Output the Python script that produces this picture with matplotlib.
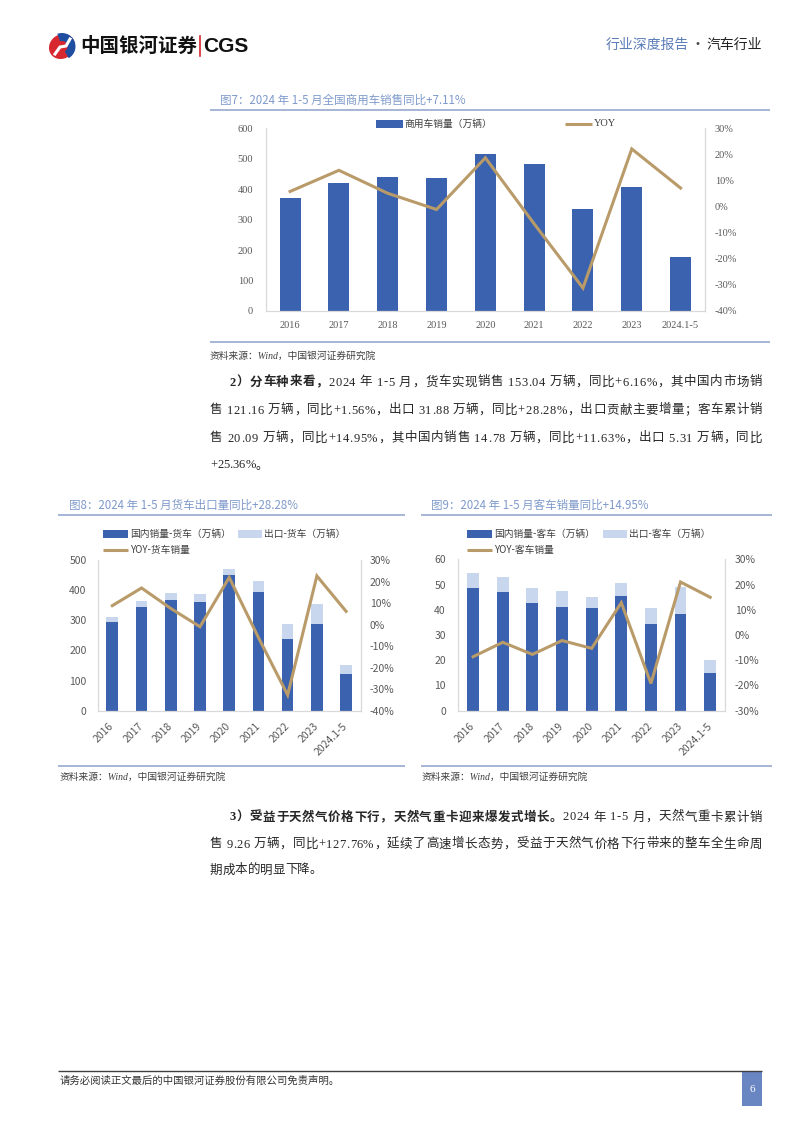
import numpy as np
import matplotlib
matplotlib.use("Agg")
import matplotlib.pyplot as plt
from matplotlib.patches import Rectangle, Ellipse, Wedge
from matplotlib.font_manager import findfont, FontProperties
from matplotlib.ft2font import FT2Font

W, H = 802, 1133

BLUE = "#3A62AE"
LIGHT = "#C9D7EE"
GOLD = "#B99A69"
AXIS = "#D9D9D9"
TICK = "#595959"
TITLE = "#7E9ACB"
RULE = "#8FA2CC"
TXT = "#262626"
SERIF = ["Liberation Serif", "Noto Sans CJK SC"]
SANS = ["Noto Sans CJK SC", "DejaVu Sans"]

# ---- data ----
years = ["2016", "2017", "2018", "2019", "2020", "2021", "2022", "2023", "2024.1-5"]

# 图7 商用车
cv_sales = [370, 421, 441, 436, 516, 484, 334, 408, 177]
cv_yoy = [5.8, 13.9, 5.1, -1.1, 18.7, -6.6, -31.2, 22.1, 7.11]

# 图8 货车
truck_dom = [293, 344, 367, 362, 450, 395, 237, 288, 121.16]
truck_exp = [18, 19, 22, 24, 20, 35, 52, 66, 31.88]
truck_yoy = [8.8, 17.0, 7.5, -1.0, 21.9, -6.0, -32.7, 22.6, 6.16]

# 图9 客车
bus_dom = [48.6, 46.9, 42.8, 41.1, 40.8, 45.5, 34.5, 38.3, 14.78]
bus_exp = [5.8, 6.0, 5.8, 6.5, 4.1, 5.0, 6.2, 10.9, 5.31]
bus_yoy = [-8.6, -2.9, -7.7, -2.2, -5.3, 12.8, -19.2, 21.0, 14.95]


fig = plt.figure(figsize=(W / 100, H / 100), dpi=100)
page = fig.add_axes([0, 0, 1, 1])
page.set_xlim(0, W)
page.set_ylim(H, 0)
page.axis("off")


def box(x0, y0, x1, y1):
    return [x0 / W, 1 - y1 / H, (x1 - x0) / W, (y1 - y0) / H]


def chart(rect, dom, exp, yoy, ymax, ystep, rlo, rhi, bar_w, fam, fs, rotate, pads):
    ax = fig.add_axes(box(*rect))
    x = np.arange(len(years))
    ax.bar(x, dom, width=bar_w, color=BLUE, zorder=2)
    if exp is not None:
        ax.bar(x, exp, bottom=dom, width=bar_w, color=LIGHT, zorder=2)
    ax.set_xlim(-0.5, len(years) - 0.5)
    ax.set_ylim(0, ymax)
    yt = np.arange(0, ymax + ystep / 2, ystep)
    ax.set_yticks(yt, [f"{v:g}" for v in yt], family=fam)
    if rotate:
        ax.set_xticks(x, years, family=fam, rotation=45, ha="right",
                      va="center", rotation_mode="anchor")
    else:
        ax.set_xticks(x, years, family=fam)
    for s in ["left", "right", "bottom"]:
        ax.spines[s].set_color(AXIS)
        ax.spines[s].set_linewidth(0.9)
        ax.spines[s].set_zorder(3)
    ax.spines["top"].set_visible(False)
    ax.tick_params(axis="y", length=0, labelsize=fs, labelcolor=TICK, pad=pads[0])
    ax.tick_params(axis="x", length=0, labelsize=fs, labelcolor=TICK, pad=pads[2])

    ax2 = ax.twinx()
    ax2.plot(x, yoy, color=GOLD, lw=2.2, solid_joinstyle="miter", zorder=4)
    ax2.set_ylim(rlo, rhi)
    rt = np.arange(rlo, rhi + 1, 10)
    ax2.set_yticks(rt, [f"{v}%" for v in rt], family=fam)
    ax2.tick_params(axis="y", length=0, labelsize=fs, labelcolor=TICK, pad=pads[1])
    for s in ax2.spines.values():
        s.set_visible(False)
    return ax, ax2


chart((265.7, 128.3, 705, 311), cv_sales, None, cv_yoy, 600, 100, -40, 30,
      0.43, SERIF, 7.5, False, (9, 7, 7))
chart((97.7, 560, 360.7, 710.7), truck_dom, truck_exp, truck_yoy, 500, 100, -40, 30,
      0.40, SANS, 7.5, True, (8, 6.5, 10))
chart((458.3, 559.3, 725, 710.7), bus_dom, bus_exp, bus_yoy, 60, 10, -30, 30,
      0.40, SANS, 7.5, True, (9, 7, 10))


# ---- legends ----
def legend_patch(x, y, w, color, label, fam=SANS):
    page.add_patch(Rectangle((x, y - 4), w, 8, color=color, lw=0))
    page.text(x + w + 2, y, label, fontsize=7, family=fam, color="#404040",
              va="center", ha="left")


def legend_line(x, y, w, label, fam=SANS, fs=7):
    page.plot([x, x + w], [y, y], color=GOLD, lw=2.2, solid_capstyle="butt")
    page.text(x + w + 2, y, label, fontsize=fs, family=fam, color="#404040",
              va="center", ha="left")


legend_patch(375.7, 123.5, 27, BLUE, "商用车销量（万辆）")
legend_line(565, 123.5, 27, "YOY", fam=SERIF, fs=7.5)

legend_patch(103.3, 533.5, 25, BLUE, "国内销量-货车（万辆）")
legend_patch(238, 533.5, 24, LIGHT, "出口-货车（万辆）")
legend_line(103.3, 550, 25, "YOY-货车销量")

legend_patch(467, 533.5, 25, BLUE, "国内销量-客车（万辆）")
legend_patch(602.7, 533.5, 24, LIGHT, "出口-客车（万辆）")
legend_line(467, 550, 25, "YOY-客车销量")


# ---- titles, rules, sources ----
def rule(x0, x1, y, color=RULE, lw=1.1):
    page.plot([x0, x1], [y, y], color=color, lw=lw, solid_capstyle="butt")


page.text(220, 100, "图7：2024 年 1-5 月全国商用车销售同比+7.11%", fontsize=8.3,
          family=SANS, color=TITLE, va="center")
rule(210, 770, 110)
rule(210, 770, 342)
page.text(210, 356, "资料来源：Wind，中国银河证券研究院", fontsize=7, family=SERIF,
          style="italic", color="#404040", va="center")

page.text(69, 505, "图8：2024 年 1-5 月货车出口量同比+28.28%", fontsize=8.3,
          family=SANS, color=TITLE, va="center")
rule(58, 405, 515)
rule(58, 405, 766)
page.text(60, 777, "资料来源：Wind，中国银河证券研究院", fontsize=7, family=SERIF,
          style="italic", color="#404040", va="center")

page.text(430.7, 505, "图9：2024 年 1-5 月客车销量同比+14.95%", fontsize=8.3,
          family=SANS, color=TITLE, va="center")
rule(421, 772, 515)
rule(421, 772, 766)
page.text(421.7, 777, "资料来源：Wind，中国银河证券研究院", fontsize=7, family=SERIF,
          style="italic", color="#404040", va="center")


# ---- body text, justified per character ----
_fonts = {}


def advance(ch, size, bold):
    fam = "Noto Sans CJK SC" if ord(ch) > 0x2000 else "Liberation Serif"
    key = (fam, bold)
    if key not in _fonts:
        path = findfont(FontProperties(family=fam, weight="bold" if bold else "normal"))
        _fonts[key] = FT2Font(path)
    f = _fonts[key]
    f.set_size(size, 100)
    g = f.load_char(ord(ch))
    return fam, g.linearHoriAdvance / 65536


def text_line(x0, y, parts, x1=None, size=9):
    items = []
    for s, bold in parts:
        for ch in s:
            fam, adv = advance(ch, size, bold)
            items.append((ch, bold, fam, adv))
    gap = 0.0
    if x1 is not None:
        gap = (x1 - x0 - sum(it[3] for it in items)) / (len(items) - 1)
    base = y + 0.36 * size * 100 / 72
    x = x0
    for ch, bold, fam, adv in items:
        if ch != " ":
            page.text(x, base, ch, fontsize=size, family=fam,
                      fontweight="bold" if bold else "normal", color=TXT,
                      va="baseline", ha="left")
        x += adv + gap


text_line(230, 381, [("2）分车种来看，", True),
                     ("2024 年 1-5 月，货车实现销售 153.04 万辆，同比+6.16%，其中国内市场销", False)], 762)
text_line(210, 409, [("售 121.16 万辆，同比+1.56%，出口 31.88 万辆，同比+28.28%，出口贡献主要增量；客车累计销", False)], 762)
text_line(210, 437, [("售 20.09 万辆，同比+14.95%，其中国内销售 14.78 万辆，同比+11.63%，出口 5.31 万辆，同比", False)], 762)
text_line(210, 464, [("+25.36%。", False)])

text_line(230, 816, [("3）受益于天然气价格下行，天然气重卡迎来爆发式增长。", True),
                     ("2024 年 1-5 月，天然气重卡累计销", False)], 762)
text_line(210, 843, [("售 9.26 万辆，同比+127.76%，延续了高速增长态势，受益于天然气价格下行带来的整车全生命周", False)], 762)
text_line(210, 869, [("期成本的明显下降。", False)])


# ---- header ----
page.add_patch(Ellipse((62, 46.5), 27, 24, angle=-35, color="#D7282F", lw=0))
page.add_patch(Wedge((62, 46.5), 13.5, 250, 60, width=8, color="#1F4EA0", lw=0))
page.plot([55, 60, 66, 70], [54, 47, 46, 39], color="white", lw=2.2)
page.text(80, 46, "中国银河证券", fontsize=14, family=SANS, fontweight="bold",
          color="#111111", va="center", ha="left")
page.plot([199.5, 199.5], [36, 56], color="#D7282F", lw=1.2)
page.text(203, 46.5, "CGS", fontsize=15, family=["Liberation Sans"], fontweight="bold",
          color="#111111", va="center", ha="left")
page.text(762, 45, "汽车行业", fontsize=10, family=SANS, color="#222222",
          va="center", ha="right")
page.text(697, 45, "·", fontsize=10, family=SANS, color="#444444",
          va="center", ha="center")
page.text(689, 45, "行业深度报告", fontsize=10, family=SANS, color="#5A7CB9",
          va="center", ha="right")

# ---- footer ----
rule(58, 762, 1071, color="#404040", lw=1.0)
page.text(60, 1081, "请务必阅读正文最后的中国银河证券股份有限公司免责声明。", fontsize=7.5,
          family=SANS, color="#333333", va="center", ha="left")
page.add_patch(Rectangle((742, 1071.5), 20, 34, color="#6A86C2", lw=0))
page.text(752, 1090, "6", fontsize=8, family=SERIF, color="white", va="center", ha="center")

fig.savefig("out.png", dpi=100)
